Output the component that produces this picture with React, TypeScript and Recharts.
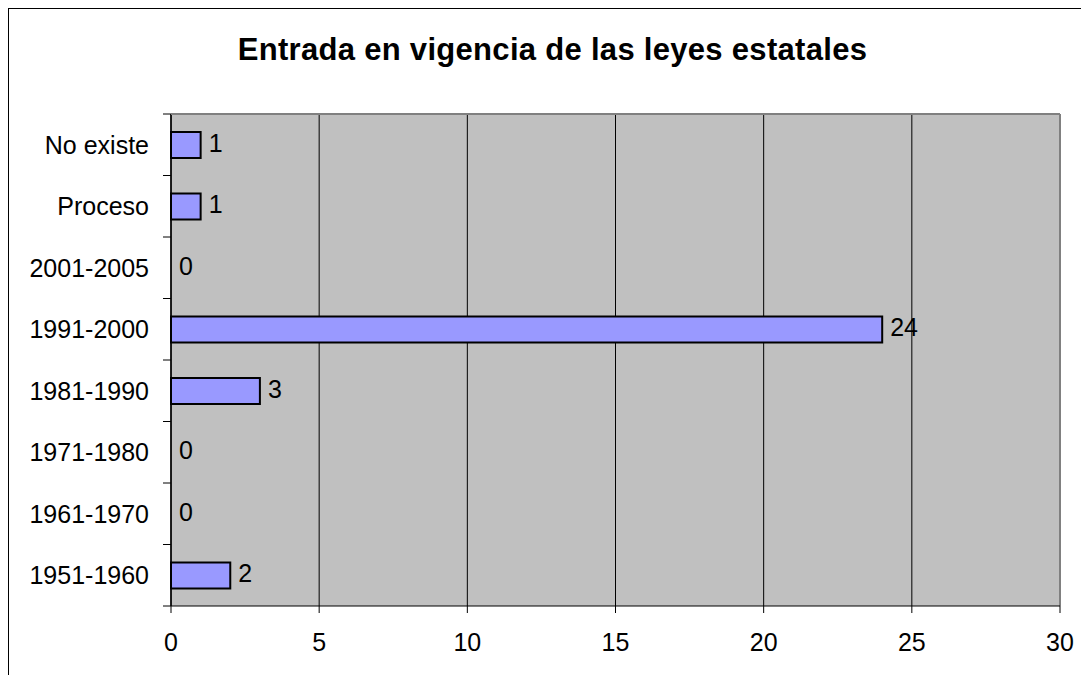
import { ComposedChart, Bar, Line, XAxis, YAxis, CartesianGrid, ReferenceLine } from 'recharts'

const periodos = [
  'No existe',
  'Proceso',
  '2001-2005',
  '1991-2000',
  '1981-1990',
  '1971-1980',
  '1961-1970',
  '1951-1960',
]
const leyes = [1, 1, 0, 24, 3, 0, 0, 2]
const xTicks = [0, 5, 10, 15, 20, 25, 30]

const data = periodos.map((periodo, i) => ({ periodo, leyes: leyes[i] }))

const FONT = "'Liberation Sans', Arial, sans-serif"
const W = 1089
const H = 683
const PLOT_LEFT = 171
const PLOT_TOP = 114
const PLOT_BOTTOM = 606
const PLOT_RIGHT = 1060
const Y_AXIS_W = 120
const X_AXIS_H = 40
const BAND = (PLOT_BOTTOM - PLOT_TOP) / periodos.length

// category labels, with tick marks on the band edges (not centres)
// eslint-disable-next-line @typescript-eslint/no-explicit-any
function CategoryTick(props: any) {
  const { y, payload, index } = props
  const last = index === periodos.length - 1
  return (
    <g>
      <text
        x={PLOT_LEFT - 22}
        y={y}
        textAnchor="end"
        dominantBaseline="central"
        fontSize={25}
        fontFamily={FONT}
        fill="#000"
      >
        {payload.value}
      </text>
      <line x1={PLOT_LEFT - 8} x2={PLOT_LEFT} y1={y - BAND / 2} y2={y - BAND / 2} stroke="#000" />
      {last && (
        <line x1={PLOT_LEFT - 8} x2={PLOT_LEFT} y1={y + BAND / 2} y2={y + BAND / 2} stroke="#000" />
      )}
    </g>
  )
}

// value label right of the bar end; Bar drops zero-length bars, so this hangs off an invisible line
// eslint-disable-next-line @typescript-eslint/no-explicit-any
function ValueLabel(props: any) {
  const { x, y, value } = props
  if (x == null || y == null) return null
  return (
    <text
      x={Number(x) + 8}
      y={Number(y) - 2}
      dominantBaseline="central"
      fontSize={25}
      fontFamily={FONT}
      fill="#000"
    >
      {value}
    </text>
  )
}

export default function App() {
  return (
    <div
      style={{
        position: 'relative',
        width: W,
        height: H,
        margin: -8,
        overflow: 'hidden',
        background: '#fff',
      }}
    >
      <div
        style={{
          position: 'absolute',
          left: 7,
          top: 7,
          width: W + 40,
          height: H + 40,
          border: '2px solid #000',
        }}
      />
      <div
        style={{
          position: 'absolute',
          left: 0,
          width: W,
          top: 31,
          textAlign: 'center',
          fontFamily: FONT,
          fontWeight: 'bold',
          fontSize: 31,
          letterSpacing: 0.3,
          lineHeight: '38px',
          color: '#000',
          paddingLeft: 8,
        }}
      >
        Entrada en vigencia de las leyes estatales
      </div>
      <div style={{ position: 'absolute', left: 0, top: 0 }}>
        <ComposedChart
          width={W}
          height={H}
          data={data}
          layout="vertical"
          barCategoryGap={0}
          margin={{
            top: PLOT_TOP,
            right: W - PLOT_RIGHT,
            bottom: H - PLOT_BOTTOM - X_AXIS_H,
            left: PLOT_LEFT - Y_AXIS_W,
          }}
        >
          <CartesianGrid horizontal={false} stroke="#000" fill="#C0C0C0" />
          <XAxis
            type="number"
            domain={[0, 30]}
            ticks={xTicks}
            interval={0}
            height={X_AXIS_H}
            axisLine={{ stroke: '#000' }}
            tickLine={{ stroke: '#000' }}
            tickSize={7}
            tickMargin={20}
            tick={{ fill: '#000', fontSize: 25, fontFamily: FONT }}
          />
          <YAxis
            type="category"
            dataKey="periodo"
            width={Y_AXIS_W}
            interval={0}
            axisLine={{ stroke: '#000', strokeWidth: 1.5 }}
            tickLine={false}
            tick={<CategoryTick />}
          />
          <ReferenceLine x={30} stroke="#808080" strokeWidth={2} />
          <Bar
            dataKey="leyes"
            fill="#9999FF"
            stroke="#000"
            strokeWidth={2}
            barSize={26}
            isAnimationActive={false}
          />
          <Line
            dataKey="leyes"
            stroke="none"
            dot={false}
            activeDot={false}
            label={<ValueLabel />}
            isAnimationActive={false}
          />
        </ComposedChart>
      </div>
      {/* plot-area top border */}
      <div
        style={{
          position: 'absolute',
          left: PLOT_LEFT,
          top: PLOT_TOP - 1,
          width: PLOT_RIGHT - PLOT_LEFT,
          height: 0,
          borderTop: '2px solid #808080',
        }}
      />
    </div>
  )
}
